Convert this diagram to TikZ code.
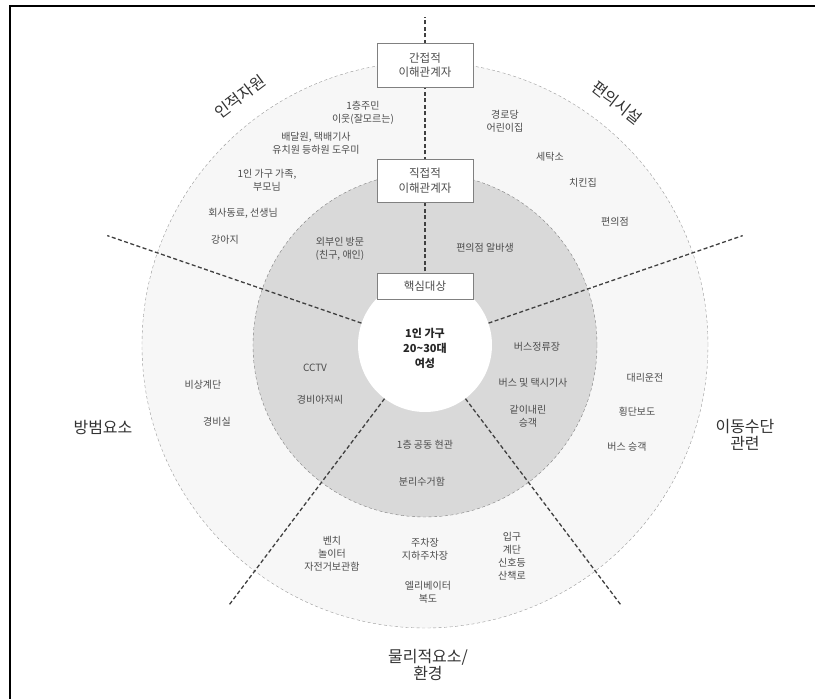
\documentclass[tikz,border=0pt]{standalone}
\usepackage{fontspec}
\setmainfont{Noto Sans CJK KR}
\usetikzlibrary{positioning}

\begin{document}
\begin{tikzpicture}[x=1pt,y=1pt,
                ring/.style={circle,draw=black!40,dash pattern=on 3pt off 2.5pt,inner sep=0pt},
                divider/.style={draw=black!75,line width=1.3pt,dash pattern=on 4pt off 2.5pt},
                stake/.style={draw=black!50,fill=white,minimum width=96pt,inner sep=1pt,align=center,font=\fontsize{11.5}{14.5}\selectfont,text=black!70},
                item/.style={align=center,font=\fontsize{10}{13}\selectfont,text=black!70},
                area/.style={align=center,font=\fontsize{16}{17}\selectfont,text=black!80}]
                \useasboundingbox (-425,-354) rectangle (390,345);
                \draw[line width=1.3pt] (-415,-354) -- (-415,339) -- (390,339);
                % rings
                \node[ring,fill=black!3,minimum size=566pt](outer)at(0, 0){};
                \node[ring,fill=black!15,draw=black!50,minimum size=344pt](inner)at(0, 0){};
                \node[circle,fill=white,inner sep=0pt,minimum size=134pt](core)at(0, 0){};
                % dividers
                \coordinate (tN) at (90:328);
                \coordinate (tNW) at (161:336);
                \coordinate (tNE) at (19:336);
                \coordinate (tSW) at (233:325);
                \coordinate (tSE) at (307:325);
                \path[divider](core.90) edge (tN)
                (core.161) edge (tNW)
                (core.19) edge (tNE)
                (core.233) edge (tSW)
                (core.307) edge (tSE);
                % stakeholder boxes
                \node[stake,minimum height=44pt](indirect)at(0, 280){간접적\\이해관계자};
                \node[stake,minimum height=43pt](direct)at(0, 164.5){직접적\\이해관계자};
                \node[stake,minimum height=26pt](focus)at(0, 59){핵심대상};
                \node[align=center,font=\fontsize{11}{15}\selectfont\bfseries,text=black!85](target)at(0, -3){1인 가구\\20\textasciitilde30대\\여성};
                % sector titles
                \node[area,rotate=37](human)at(-185, 248){인적자원};
                \node[area,rotate=-38](amenity)at(192, 242){편의시설};
                \node[area](crime)at(-322, -83){방범요소};
                \node[area](transport)at(320, -90){이동수단\\관련};
                \node[area](physical)at(3, -320){물리적요소/\\환경};
                % human resources
                \node[item](h1)at(-62, 232.5){1층주민\\이웃(잘모르는)};
                \node[item](h2)at(-109, 201.5){배달원, 택배기사\\유치원 등하원 도우미};
                \node[item](h3)at(-158, 165){1인 가구 가족,\\부모님};
                \node[item](h4)at(-182, 132){회사동료, 선생님};
                \node[item](h5)at(-200, 105){강아지};
                \node[item](h6)at(-85, 96){외부인 방문\\(친구, 애인)};
                % amenities
                \node[item](a1)at(80, 223.5){경로당\\어린이집};
                \node[item](a2)at(125, 188){세탁소};
                \node[item](a3)at(158, 162){치킨집};
                \node[item](a4)at(190, 123){편의점};
                \node[item](a5)at(60, 97){편의점 알바생};
                % crime prevention
                \node[item](c1)at(-110, -23){CCTV};
                \node[item](c2)at(-105, -55){경비아저씨};
                \node[item](c3)at(-222, -40){비상계단};
                \node[item](c4)at(-208, -77){경비실};
                % transport
                \node[item](m1)at(112, -2){버스정류장};
                \node[item](m2)at(108, -38){버스 및 택시기사};
                \node[item](m3)at(103, -71){같이내린\\승객};
                \node[item](m4)at(220, -33){대리운전};
                \node[item](m5)at(212, -67){횡단보도};
                \node[item](m6)at(202, -102){버스 승객};
                % physical environment
                \node[item](p1)at(0, -100){1층 공동 현관};
                \node[item](p2)at(-3, -137){분리수거함};
                \node[item](p3)at(-93, -209){벤치\\놀이터\\자전거보관함};
                \node[item](p4)at(0, -204.5){주차장\\지하주차장};
                \node[item](p5)at(3, -247.5){엘리베이터\\복도};
                \node[item](p6)at(87, -211){입구\\계단\\신호등\\산책로};
\end{tikzpicture}
\end{document}
